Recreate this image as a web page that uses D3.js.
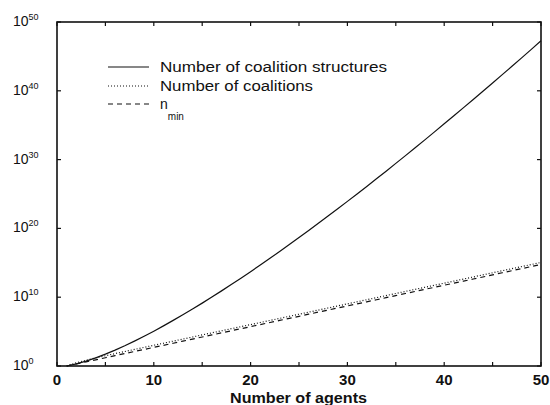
<!DOCTYPE html>
<html>
<head>
<meta charset="utf-8">
<script src="https://cdn.jsdelivr.net/npm/d3@7"></script>
<style>
  body { margin: 0; background: #fff; }
  svg text { font-family: "Liberation Sans", Arial, Helvetica, sans-serif; fill: #111; }
</style>
</head>
<body>
<svg id="chart" width="550" height="405"></svg>
<script>
// numero de agentes
const agents = d3.range(1, 51);

// log10 de cada serie
const logStructures = [0, 0.30, 0.70, 1.18, 1.72, 2.31, 2.94, 3.62, 4.33, 5.06,
  5.83, 6.63, 7.44, 8.28, 9.14, 10.02, 10.92, 11.83, 12.77, 13.71,
  14.68, 15.65, 16.65, 17.65, 18.67, 19.70, 20.74, 21.79, 22.85, 23.93,
  25.01, 26.10, 27.21, 28.32, 29.45, 30.58, 31.72, 32.87, 34.03, 35.20,
  36.37, 37.55, 38.74, 39.94, 41.14, 42.35, 43.57, 44.79, 46.02, 47.27];
const logCoalitions = [0, 0.48, 0.85, 1.18, 1.49, 1.80, 2.10, 2.41, 2.71, 3.01,
  3.31, 3.61, 3.91, 4.21, 4.52, 4.82, 5.12, 5.42, 5.72, 6.02,
  6.32, 6.62, 6.92, 7.22, 7.53, 7.83, 8.13, 8.43, 8.73, 9.03,
  9.33, 9.63, 9.93, 10.24, 10.54, 10.84, 11.14, 11.44, 11.74, 12.04,
  12.34, 12.64, 12.94, 13.25, 13.55, 13.85, 14.15, 14.45, 14.75, 15.05];
const logNmin = [0, 0.30, 0.60, 0.90, 1.20, 1.51, 1.81, 2.11, 2.41, 2.71,
  3.01, 3.31, 3.61, 3.91, 4.21, 4.52, 4.82, 5.12, 5.42, 5.72,
  6.02, 6.32, 6.62, 6.92, 7.22, 7.53, 7.83, 8.13, 8.43, 8.73,
  9.03, 9.33, 9.63, 9.93, 10.24, 10.54, 10.84, 11.14, 11.44, 11.74,
  12.04, 12.34, 12.64, 12.94, 13.25, 13.55, 13.85, 14.15, 14.45, 14.75];

const seriesNames = ["Number of coalition structures", "Number of coalitions", "n"];
const xTicks = [0, 10, 20, 30, 40, 50];
const yTickExps = [0, 10, 20, 30, 40, 50];

const W = 550, H = 405;
const margin = {top: 22, right: 9, bottom: 39, left: 57};

const svg = d3.select("#chart");

const x = d3.scaleLinear().domain([0, 50]).range([margin.left, W - margin.right]);
const y = d3.scaleLog().domain([1, 1e50]).range([H - margin.bottom, margin.top]);

const series = [
  {name: seriesNames[0], vals: logStructures, dash: null, legW: 227},
  {name: seriesNames[1], vals: logCoalitions, dash: "1,2", legW: 153},
  {name: seriesNames[2], vals: logNmin, dash: "5,4", legW: null}
];

const line = d3.line()
  .x(d => x(d[0]))
  .y(d => y(Math.pow(10, d[1])));

const gLines = svg.append("g");
series.forEach(s => {
  gLines.append("path")
    .datum(agents.map((n, i) => [n, s.vals[i]]))
    .attr("d", line)
    .attr("fill", "none")
    .attr("stroke", "#111")
    .attr("stroke-width", 1.2)
    .attr("stroke-dasharray", s.dash);
});

// marco y ticks hacia dentro
const x0 = margin.left, x1 = W - margin.right, y0 = H - margin.bottom, y1 = margin.top;
svg.append("rect")
  .attr("x", x0).attr("y", y1)
  .attr("width", x1 - x0).attr("height", y0 - y1)
  .attr("fill", "none").attr("stroke", "#111").attr("stroke-width", 1.6);

const xTickAll = d3.range(0, 51, 5);
xTickAll.forEach(v => {
  svg.append("line").attr("x1", x(v)).attr("x2", x(v)).attr("y1", y0).attr("y2", y0 - 4)
    .attr("stroke", "#111").attr("stroke-width", 1.2);
  svg.append("line").attr("x1", x(v)).attr("x2", x(v)).attr("y1", y1).attr("y2", y1 + 4)
    .attr("stroke", "#111").attr("stroke-width", 1.2);
});
yTickExps.forEach(e => {
  const yy = y(Math.pow(10, e));
  svg.append("line").attr("x1", x0).attr("x2", x0 + 4).attr("y1", yy).attr("y2", yy)
    .attr("stroke", "#111").attr("stroke-width", 1.2);
  svg.append("line").attr("x1", x1).attr("x2", x1 - 4).attr("y1", yy).attr("y2", yy)
    .attr("stroke", "#111").attr("stroke-width", 1.2);
});

// etiquetas eje x
svg.selectAll(".xlab")
  .data(xTicks)
  .enter().append("text")
  .attr("class", "xlab")
  .attr("x", d => x(d))
  .attr("y", y0 + 19)
  .attr("text-anchor", "middle")
  .style("font-size", "15px")
  .style("font-weight", "bold")
  .text(d => d);

// etiquetas eje y: 10^k
yTickExps.forEach(e => {
  const t = svg.append("text")
    .attr("x", 13)
    .attr("y", y(Math.pow(10, e)) + 4)
    .style("font-size", "14px");
  t.append("tspan").text("10");
  t.append("tspan").attr("dy", -6).style("font-size", "9px").text(e);
});

svg.append("text")
  .attr("x", 230)
  .attr("y", 403)
  .attr("textLength", 137)
  .attr("lengthAdjust", "spacingAndGlyphs")
  .style("font-size", "14px")
  .style("font-weight", "bold")
  .text("Number of agents");

// leyenda
const legX1 = 108, legX2 = 149, legText = 160;
const legY = [67, 86, 104];
series.forEach((s, i) => {
  svg.append("line")
    .attr("x1", legX1).attr("x2", legX2)
    .attr("y1", legY[i]).attr("y2", legY[i])
    .attr("stroke", "#111").attr("stroke-width", 1.2)
    .attr("stroke-dasharray", s.dash);
  const t = svg.append("text")
    .attr("x", legText)
    .attr("y", legY[i] + 5)
    .style("font-size", "14px")
    .text(s.name);
  if (s.legW) {
    t.attr("textLength", s.legW).attr("lengthAdjust", "spacingAndGlyphs");
  } else {
    t.append("tspan").attr("dy", 11).style("font-size", "10px").text("min");
  }
});
</script>
</body>
</html>
